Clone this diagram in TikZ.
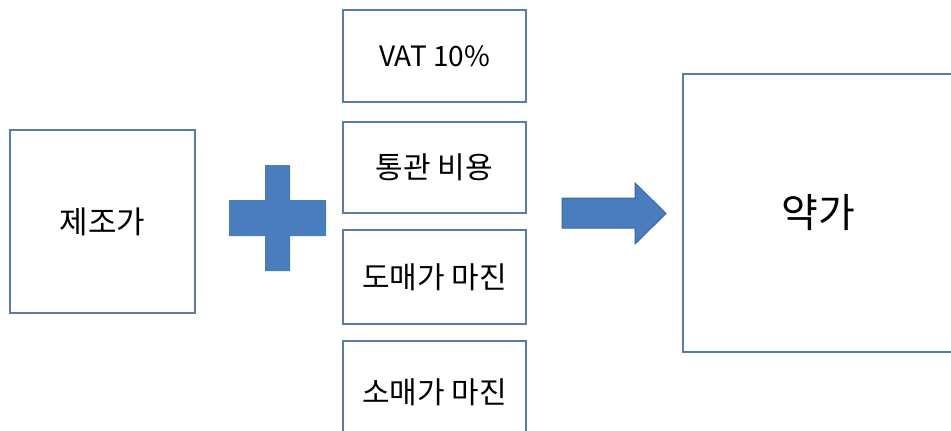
\documentclass[tikz,border=0pt]{standalone}
\usepackage{fontspec}
\setmainfont{Noto Sans CJK KR}
\definecolor{boxline}{HTML}{5A7CA4}
\definecolor{shapefill}{HTML}{4A7DBE}
\definecolor{shapeline}{HTML}{3D64A0}
\begin{document}
\begin{tikzpicture}[x=1pt,y=-1pt,
  pricebox/.style={draw=boxline,line width=2.8pt,fill=white,rectangle,inner sep=0pt,text=black},
  smallbox/.style={pricebox,minimum width=183pt,minimum height=92pt,font=\fontsize{30}{36}\selectfont}]
\fill[white] (0,0) rectangle (951,431);
\useasboundingbox (0,0) rectangle (951,431);
\clip (0,0) rectangle (951,431);
% left box
\node[pricebox,minimum width=185pt,minimum height=183pt,font=\fontsize{31}{37}\selectfont] (maker) at (102.5,221.5) {제조가};
% plus sign
\fill[shapefill] (265,165) -- (290,165) -- (290,200) -- (326,200) -- (326,236) -- (290,236)
  -- (290,271) -- (265,271) -- (265,236) -- (229,236) -- (229,200) -- (265,200) -- cycle;
% middle boxes
\node[smallbox,font=\fontsize{28}{34}\selectfont] (vat) at (434.5,56) {VAT 10\%};
\node[smallbox,minimum height=91pt] (customs) at (434.5,167.5) {통관 비용};
\node[smallbox,minimum height=94pt] (wholesale) at (434.5,277) {도매가 마진};
\node[smallbox,minimum height=102pt] (retail) at (434.5,392) {소매가 마진};
% block arrow
\filldraw[fill=shapefill,draw=shapeline,line width=1pt,line join=miter]
  (562,198) -- (635,198) -- (635,183) -- (666,213.5) -- (635,244) -- (635,228) -- (562,228) -- cycle;
% right box
\node[pricebox,minimum width=271pt,minimum height=278pt,font=\fontsize{40}{48}\selectfont] (price) at (818.5,213) {약가};
\end{tikzpicture}
\end{document}
